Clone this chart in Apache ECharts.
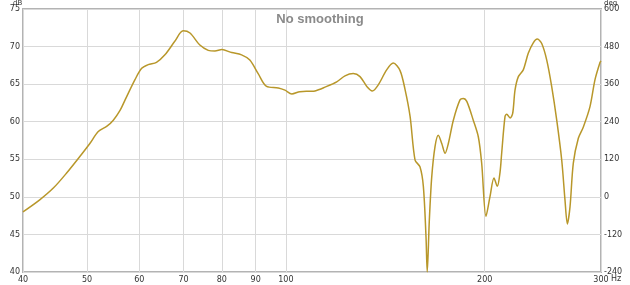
<!DOCTYPE html>
<html>
<head>
<meta charset="utf-8">
<script src="https://cdn.jsdelivr.net/npm/echarts@6/dist/echarts.min.js"></script>
<style>
html,body{margin:0;padding:0;background:#fff;}
#chart{width:630px;height:285px;}
</style>
</head>
<body>
<div id="chart"></div>
<script>
// Frequency (Hz) sample points
const freqs = [40, 42.4, 44.5, 46.6, 48.8, 50.5, 52.0, 53.6, 54.8, 56.1, 57.1, 59.1, 60.5, 61.9, 63.7, 65.6, 67.9, 69.9, 71.6, 74.1, 76.3, 78.1, 80.0, 82.8, 85.7, 88.2, 90.8, 93.5, 97.4, 99.7, 102.1, 105.0, 108.8, 110.7, 114.6, 119.4, 122.9, 126.5, 129.5, 132.6, 135.2, 138.0, 142.1, 145.4, 148.9, 151.5, 154.2, 156.9, 159.6, 161.5, 163.0, 163.7, 164.9, 166.3, 168.2, 170.1, 172.2, 174.2, 176.2, 179.3, 183.5, 185.6, 187.9, 192.2, 195.6, 197.9, 200.9, 203.7, 206.6, 209.0, 211.0, 212.2, 214.7, 216.0, 218.5, 220.5, 222.3, 224.9, 228.8, 232.8, 236.9, 240.3, 244.0, 248.3, 252.6, 257.1, 261.6, 264.6, 266.8, 269.3, 272.4, 277.2, 282.1, 288.7, 293.8, 299.0, 300];
// SPL (dB)
const spl = [48.0, 49.6, 51.2, 53.2, 55.4, 57.1, 58.7, 59.4, 60.2, 61.5, 62.9, 65.6, 67.1, 67.6, 67.9, 68.9, 70.7, 72.1, 71.8, 70.2, 69.5, 69.4, 69.6, 69.2, 68.9, 68.2, 66.4, 64.7, 64.5, 64.2, 63.7, 64.0, 64.05, 64.1, 64.6, 65.3, 66.1, 66.4, 66.0, 64.7, 64.1, 64.9, 66.9, 67.8, 66.8, 64.3, 60.7, 54.9, 54.0, 51.4, 44.7, 40.0, 46.9, 52.7, 56.7, 58.2, 57.1, 55.8, 57.1, 60.2, 62.9, 63.1, 62.7, 60.2, 58.0, 54.5, 47.4, 50.0, 52.5, 51.4, 53.3, 55.8, 60.7, 61.0, 60.5, 61.1, 64.2, 66.0, 66.9, 69.1, 70.5, 71.0, 70.4, 68.2, 64.7, 60.2, 54.9, 49.6, 46.4, 48.7, 54.5, 57.8, 59.3, 62.0, 65.6, 67.9, 68.1];
const xTicks = [40, 50, 60, 70, 80, 90, 100, 200, 300];
const dbRange = [40, 75, 5];
const degRange = [-240, 600, 120];
const titleText = 'No smoothing';

const labelFont = {fontFamily: 'DejaVu Sans', fontSize: 8, color: '#333'};
const chart = echarts.init(document.getElementById('chart'), null, {renderer: 'canvas'});
chart.setOption({
  animation: false,
  backgroundColor: '#fff',
  title: {
    text: titleText, left: 315, top: 8, textAlign: 'center',
    textStyle: {fontFamily: 'Liberation Sans', fontWeight: 'bold', fontSize: 13, color: '#8a8a8a'}
  },
  grid: {left: 23, right: 29, top: 9, bottom: 13, show: true, borderColor: '#b3b3b3', borderWidth: 2, backgroundColor: '#fff'},
  xAxis: {
    type: 'log', logBase: 10, min: 40, max: 300,
    axisLine: {show: false},
    axisTick: {show: false, customValues: xTicks},
    splitLine: {show: true, lineStyle: {color: '#d9d9d9', width: 1}},
    axisLabel: Object.assign({customValues: xTicks, margin: 4, showMinLabel: true, showMaxLabel: true, hideOverlap: false}, labelFont)
  },
  yAxis: [
    {
      type: 'value', min: dbRange[0], max: dbRange[1], interval: dbRange[2],
      axisLine: {show: false}, axisTick: {show: false},
      splitLine: {show: true, lineStyle: {color: '#d9d9d9', width: 1}},
      axisLabel: Object.assign({margin: 3}, labelFont)
    },
    {
      type: 'value', position: 'right', min: degRange[0], max: degRange[1], interval: degRange[2],
      axisLine: {show: false}, axisTick: {show: false}, splitLine: {show: false},
      axisLabel: Object.assign({margin: 3}, labelFont)
    }
  ],
  graphic: [
    {type: 'text', left: 13, top: 0, style: {text: 'dB', fontFamily: 'DejaVu Sans', fontSize: 7, fill: '#333'}},
    {type: 'text', left: 604, top: 0, style: {text: 'deg', fontFamily: 'DejaVu Sans', fontSize: 7, fill: '#333'}},
    {type: 'text', left: 611, top: 275, style: {text: 'Hz', fontFamily: 'DejaVu Sans', fontSize: 8, fill: '#333'}}
  ],
  series: [{
    type: 'line',
    data: freqs.map((f, i) => [f, spl[i]]),
    showSymbol: false,
    smooth: 0.3,
    clip: true,
    lineStyle: {color: '#b8972a', width: 1.5}
  }]
});
</script>
</body>
</html>
